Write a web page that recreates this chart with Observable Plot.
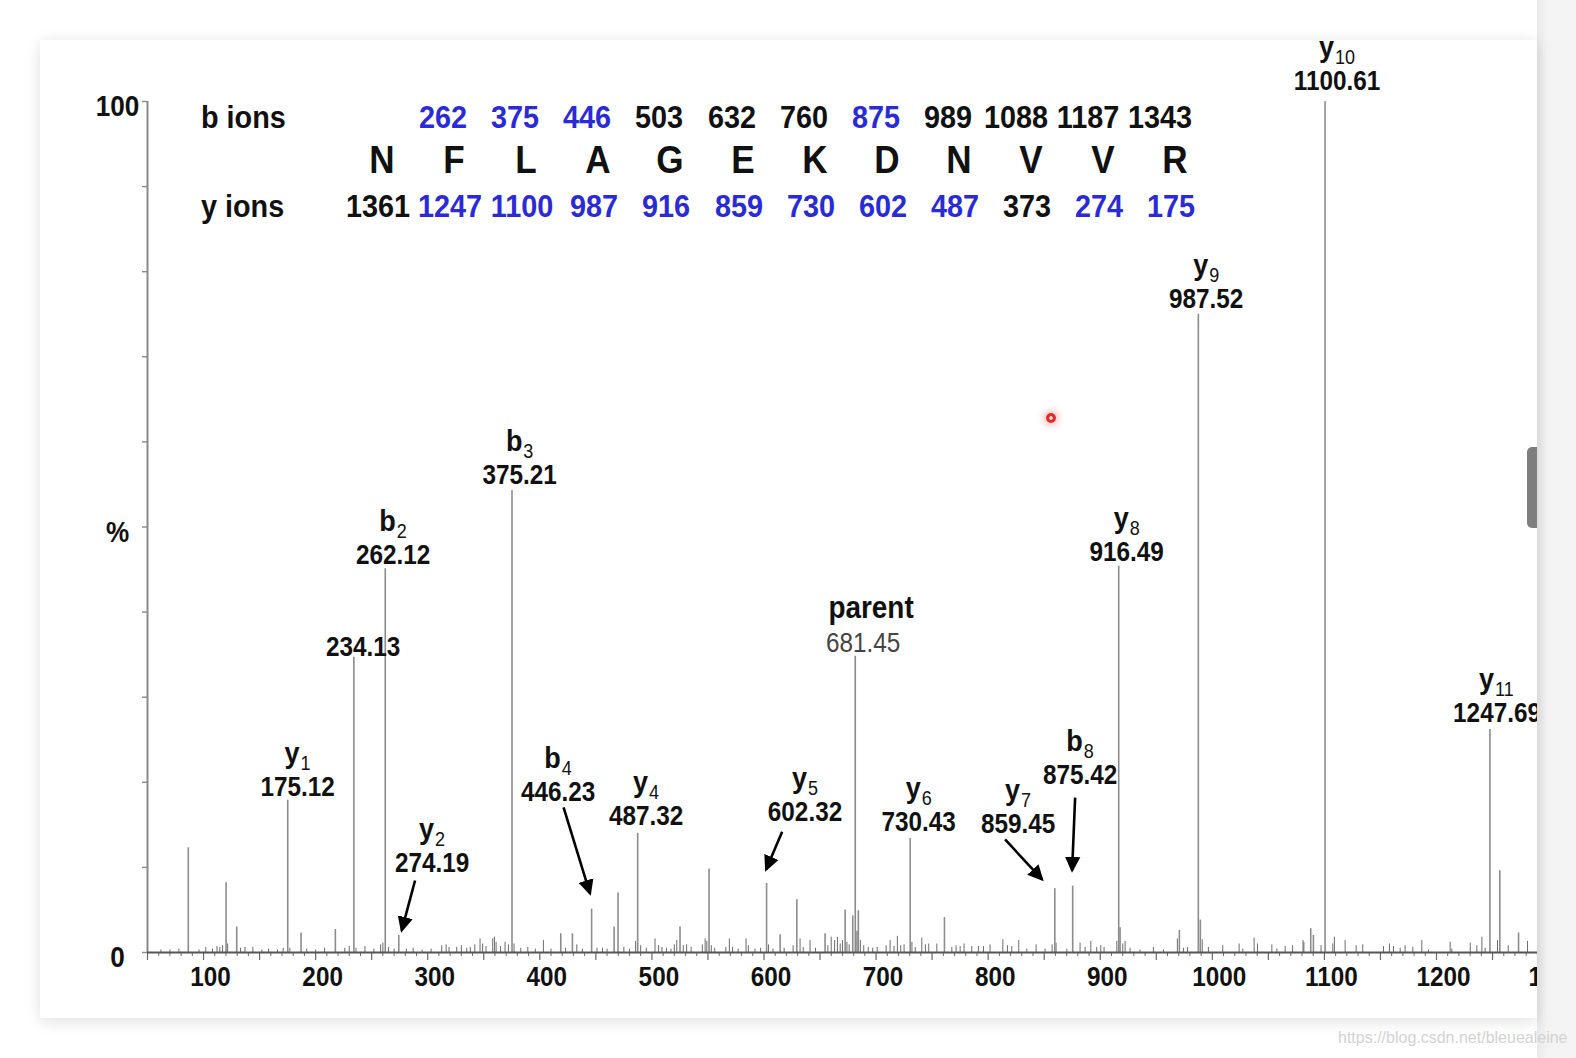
<!DOCTYPE html>
<html>
<head>
<meta charset="utf-8">
<script src="https://cdn.jsdelivr.net/npm/d3@7"></script>
<script src="https://cdn.jsdelivr.net/npm/@observablehq/plot@0.6"></script>
<style>
  html, body { margin:0; padding:0; background:#fff; }
  body { position:relative; width:1576px; height:1058px; overflow:hidden; font-family:"Liberation Sans", Arial, sans-serif; }
  #strip { position:absolute; left:1537px; top:0; width:39px; height:1058px; background:linear-gradient(90deg,#e9e9e9,#f3f3f3 10px,#f4f4f4); }
  #card { position:absolute; left:40px; top:40px; width:1497px; height:978px; background:#fff; overflow:hidden; box-shadow:0 3px 14px rgba(0,0,0,0.13); }
  #chart { position:absolute; left:0; top:0; width:1600px; height:978px; }
  #chart svg { max-width:none !important; }
  #header { position:absolute; left:0; top:0; }
  .h { position:absolute; line-height:1; white-space:nowrap; font-weight:bold; color:#111; }
  .c { transform: translateX(-50%) scaleX(0.9); }
  .l { transform-origin: 0 0; transform: scaleX(0.9); }
  #thumb { position:absolute; left:1527px; top:447px; width:10px; height:81px; background:#7e7e7e; border-radius:5px 0 0 5px; }
  #dot { position:absolute; left:1046px; top:413px; width:10px; height:10px; border-radius:50%;
         background: radial-gradient(circle, #f7c4c4 0 1.6px, #e02a2a 2.2px 5px);
         box-shadow: 0 0 6px 3px rgba(240,70,70,0.30); }
  #wm { position:absolute; left:1338px; top:1030px; font-size:16px; line-height:1; color:#d2d2d2; white-space:nowrap; }
</style>
</head>
<body>
<div id="strip"></div>
<div id="card"><div id="chart"></div></div>
<div id="header"></div>
<div id="thumb"></div>
<div id="dot"></div>
<div id="wm">https://blog.csdn.net/bleuealeine</div>
<script>
// ---------------- data ----------------
// peptide sequence and fragment-ion ladders
const residues  = ["N","F","L","A","G","E","K","D","N","V","V","R"];
const bIons     = [262, 375, 446, 503, 632, 760, 875, 989, 1088, 1187, 1343];
const bObserved = [true, true, true, false, false, false, true, false, false, false, false];
const yIons     = [1361, 1247, 1100, 987, 916, 859, 730, 602, 487, 373, 274, 175];
const yObserved = [false, true, true, true, true, true, true, true, true, false, true, true];

// annotated fragment peaks (m/z, relative intensity %)
const ionLetter = ["y","b","y","b","b","y","y","y","y","b","y","y","y","y"];
const ionIndex  = ["1","2","2","3","4","4","5","6","7","8","8","9","10","11"];
const ionMz     = [175.12, 262.12, 274.19, 375.21, 446.23, 487.32, 602.32, 730.43, 859.45, 875.42, 916.49, 987.52, 1100.61, 1247.69];
const ionInt    = [17.9, 45.1, 2.0, 54.3, 5.1, 14.0, 8.1, 13.4, 7.5, 7.8, 45.4, 75.0, 100, 26.2];
// where each annotation's value line sits (m/z, %)
const ionLabelMz  = [183.9, 269.1, 303.9, 382.0, 416.3, 494.8, 636.6, 738.0, 826.7, 882.0, 923.6, 994.5, 1111.3, 1254.0];
const ionLabelPct = [19.4, 46.65, 10.46, 56.05, 18.8, 15.98, 16.45, 15.28, 15.04, 20.8, 47.04, 76.8, 102.4, 28.13];

// other labelled peaks
const unassignedMz = 234.13, unassignedInt = 34.7, unassignedLabel = [242.3, 35.84];
const parentMz = 681.45, parentInt = 34.8, parentLabel = [688.4, 36.3];

// arrows from label to weak peaks: [fromMz, fromPct] -> [toMz, toPct]
const arrowFrom = [[288.7, 8.46], [421.2, 17.04], [616.2, 14.2], [815.1, 13.28], [877.6, 18.2]];
const arrowTo   = [[276.8, 2.59], [444.8, 6.93], [601.9, 9.75], [848.1, 8.58], [874.9, 9.64]];

// unlabelled peaks and baseline noise
const otherMz = [62,70,78,86.4,96,102,108,112,114.5,117,120.1,121.5,129.6,133,137,144,152,158,166,171,
  177,187.0,192,200,208,217.6,226,230,236,244,252,258,260,265,270,281,287,295,303,312.5,316.4,319,325.9,330,
  334.8,338,342,346.7,349,352,358.0,359.5,361,365,369,372,377,383,389.3,396,403.2,410,418.7,423,429.1,433,438,
  451,456,460,466.3,469.8,475,480,485.5,490,495,502.8,506,509,513,517,520,522.2,525.1,528,531,535,545,547.5,
  549,551.0,553,556,566,569.1,572,577,584.0,586,592,597,604,608,614.4,618,626,629.3,632.2,635,641.1,646,654.5,
  657,660,663,665.5,668,670,672.4,674,676,679.2,683,684.2,686,689,693,697,701,709,712.5,716,719.0,722,725,732,
  735,740.8,744,747,754.2,761.0,767.6,771.4,775,778.5,785.4,791.3,795.8,801.7,813.1,817.2,821.1,827.3,834.5,
  842.8,850.8,857.1,860.6,870.2,882.0,886.5,891.6,896.9,900.5,903.4,914.8,917.7,920.1,922.2,926.6,935.5,947.4,
  956.4,968.8,970.6,974.2,977.8,989.3,991,996.5,1009.3,1023.9,1027.2,1037.3,1040.3,1053.1,1057.6,1065.0,1071.6,
  1080.9,1081.7,1087.8,1090.2,1097,1107.5,1108.9,1118.5,1128.3,1134.2,1152.7,1158.0,1161.6,1167.6,1172,1178.9,
  1186.9,1192.8,1212.2,1213.7,1230.1,1236.0,1240.5,1243.4,1254.4,1256.5,1264,1273.2,1281.2];
const otherInt = [0.3,0.3,0.4,12.3,0.3,0.6,0.4,0.7,0.6,0.8,8.2,1.0,3.0,0.5,0.6,0.6,0.3,0.4,0.3,0.5,
  0.5,2.3,0.4,0.3,0.5,2.7,0.5,0.7,0.5,0.7,0.4,0.9,1.1,0.6,0.4,0.4,0.5,0.3,0.4,0.8,0.9,0.6,0.6,0.8,
  0.5,0.6,0.9,1.6,1.0,0.7,1.6,1.8,1.2,0.7,1.2,0.9,1.0,0.5,0.6,0.4,1.4,0.4,2.2,0.5,2.2,0.9,0.4,
  0.5,0.5,0.4,3.0,7.0,0.6,0.4,1.3,0.8,0.5,1.6,0.8,0.6,0.5,0.4,0.9,1.4,3.0,0.8,0.9,0.6,0.9,1.6,
  1.3,9.8,0.8,0.5,0.6,1.6,0.6,0.4,1.6,0.8,0.4,0.5,0.9,0.4,2.1,0.5,0.8,6.2,1.6,0.6,1.4,0.5,2.2,
  0.8,1.8,1.4,1.8,1.0,1.4,5.0,1.2,0.9,4.3,2.5,4.9,1.4,0.8,0.6,0.5,0.6,0.8,1.4,0.7,1.9,0.8,0.9,1.2,
  0.6,1.7,0.9,1.0,1.0,4.1,0.6,0.8,0.7,1.0,0.7,0.7,0.7,0.9,1.5,0.8,0.7,1.4,0.4,
  0.9,0.4,0.9,1.1,0.4,1.1,0.6,1.3,0.6,0.8,0.6,1.3,2.9,1.0,1.3,0.5,0.3,0.6,
  0.3,1.6,2.6,0.5,0.6,3.8,1.5,0.6,0.8,1.0,0.4,1.7,1.0,0.9,0.4,0.7,0.8,
  1.4,1.2,2.8,2.0,0.8,1.0,1.8,1.4,0.8,0.9,0.7,1.0,0.7,0.5,0.8,0.6,
  1.4,0.3,1.2,0.4,1.1,0.8,1.8,0.5,1.4,9.6,0.8,2.3,1.3];

// axis ticks
const xLabelTicks = [100,200,300,400,500,600,700,800,900,1000,1100,1200,1300];
const yTickValues = [0,10,20,30,40,50,60,70,80,90,100];
const yLabelValues = [100, 50, 0];
const yLabelText   = ["100", "%", "0"];

// ---------------- header (sequence ladder) ----------------
const BLUE = "#2a2ad8";
const colX = i => 382 + 72.1 * i;
const header = document.getElementById("header");
function addText(txt, left, top, size, color, cls) {
  const d = document.createElement("div");
  d.className = "h " + cls;
  d.textContent = txt;
  d.style.left = left + "px";
  d.style.top = top + "px";
  d.style.fontSize = size + "px";
  d.style.color = color;
  header.appendChild(d);
}
addText("b ions", 201, 100.9, 32, "#111", "l");
addText("y ions", 201, 189.6, 32, "#111", "l");
bIons.forEach((v, i) => addText(String(v), colX(i + 1) - 11 - (i >= 8 ? 4 : 0), 100.9, 32, bObserved[i] ? BLUE : "#111", "c"));
residues.forEach((r, i) => addText(r, colX(i), 140, 39, "#111", "c"));
yIons.forEach((v, i) => addText(String(v), colX(i) - 4, 189.6, 32, yObserved[i] ? BLUE : "#111", "c"));

// ---------------- plot ----------------
const W = 1600, H = 978, mL = 107, mT = 61, mB = 66, mR = 0;
const xDom = [50, 1382];
const k = (W - mL - mR) / (xDom[1] - xDom[0]);   // px per m/z unit
const SQ = 0.9;                                  // horizontal text compression

const ions = ionMz.map((m, i) => ({
  letter: ionLetter[i], idx: ionIndex[i], mz: m, v: ionInt[i],
  lx: ionLabelMz[i], ly: ionLabelPct[i]
}));
const GAP = 1;
const letterW = d => (d.letter === "b" ? 0.611 : 0.556) * 30 * SQ;
const subW = d => d.idx.length * 0.556 * 20 * SQ;

const peaks = [
  ...otherMz.map((m, i) => ({mz: m, v: otherInt[i]})),
  ...ions.map(d => ({mz: d.mz, v: d.v})),
  {mz: unassignedMz, v: unassignedInt},
  {mz: parentMz, v: parentInt}
];
const bigPeaks = peaks.filter(d => d.v >= 2);
const smallPeaks = peaks.filter(d => d.v < 2);

const arrows = arrowFrom.map((f, i) => ({x1: f[0], y1: f[1], x2: arrowTo[i][0], y2: arrowTo[i][1]}));
const fmt = d3.format(".2f");
const FONT = "'Liberation Sans', Arial, sans-serif";

const xMinor = d3.range(50, 1381, 10).filter(t => t % 50 !== 0);
const xMid = d3.range(50, 1381, 50);

const plot = Plot.plot({
  width: W, height: H,
  marginLeft: mL, marginTop: mT, marginBottom: mB, marginRight: mR,
  x: {type: "linear", domain: xDom},
  y: {type: "linear", domain: [0, 100]},
  style: {fontFamily: FONT, background: "transparent", overflow: "visible", maxWidth: "none"},
  marks: [
    // axes
    Plot.axisX({ticks: xMinor, tickSize: 4, tickFormat: () => "", label: null, stroke: "#6a6a6a", strokeWidth: 1}),
    Plot.axisX({ticks: xMid, tickSize: 8, tickFormat: () => "", label: null, stroke: "#6a6a6a", strokeWidth: 1.2}),
    Plot.axisY({ticks: yTickValues, tickSize: 5, tickFormat: () => "", label: null, stroke: "#8a8a8a", strokeWidth: 1.4}),
    Plot.ruleX([xDom[0]], {y1: 0, y2: 100, stroke: "#8a8a8a", strokeWidth: 2}),
    // peaks
    Plot.ruleX(smallPeaks, {x: "mz", y1: 0, y2: "v", stroke: "#6c6c6c", strokeWidth: 1}),
    Plot.ruleX(bigPeaks, {x: "mz", y1: 0, y2: "v", stroke: "#8c8c8c", strokeWidth: 1.6}),
    Plot.ruleY([0], {stroke: "#555", strokeWidth: 2}),
    // tick labels
    Plot.text(xLabelTicks, {x: d => d, y: 0, text: d => String(d), dy: 25, dx: 7,
      fontSize: 27, fontWeight: "bold", fill: "#111"}),
    Plot.text(yLabelValues, {x: xDom[0], y: d => d, text: (d, i) => yLabelText[i], dx: -30, dy: 5.5,
      textAnchor: "middle", fontSize: 29, fontWeight: "bold", fill: "#111"}),
    // ion annotations
    Plot.text(ions, {x: "lx", y: "ly", text: d => fmt(d.mz), fontSize: 27, fontWeight: "bold", fill: "#111"}),
    Plot.text(ions, {x: d => d.lx - (letterW(d) + subW(d) + GAP) / 2 / k, y: "ly", text: "letter",
      textAnchor: "start", dy: -34, fontSize: 30, fontWeight: "bold", fill: "#111"}),
    Plot.text(ions, {x: d => d.lx + (letterW(d) - subW(d) + GAP) / 2 / k, y: "ly", text: "idx",
      textAnchor: "start", dy: -23.5, fontSize: 20, fill: "#111"}),
    Plot.text([unassignedMz], {x: () => unassignedLabel[0], y: () => unassignedLabel[1], text: d => fmt(d),
      fontSize: 27, fontWeight: "bold", fill: "#111"}),
    Plot.text([parentMz], {x: () => parentLabel[0], y: () => parentLabel[1], text: () => "parent",
      dx: 8, dy: -36, fontSize: 31, fontWeight: "bold", fill: "#111"}),
    Plot.text([parentMz], {x: () => parentLabel[0], y: () => parentLabel[1], text: d => fmt(d),
      fontSize: 27, fill: "#444"}),
    // arrows
    Plot.link(arrows, {x1: "x1", y1: "y1", x2: "x2", y2: "y2", stroke: "#000", strokeWidth: 2.6, markerEnd: "arrow"})
  ]
});

plot.style.maxWidth = "none";
document.getElementById("chart").appendChild(plot);

// filled arrowheads
plot.querySelectorAll("marker").forEach(m => {
  m.setAttribute("viewBox", "-10 -5 10 10");
  m.setAttribute("markerUnits", "userSpaceOnUse");
  m.setAttribute("markerWidth", "16");
  m.setAttribute("markerHeight", "16");
  m.setAttribute("refX", "-1.5");
  m.setAttribute("refY", "0");
  m.setAttribute("fill", "#000");
  m.setAttribute("stroke", "none");
  const p = m.querySelector("path");
  if (p) p.setAttribute("d", "M-10,-4.8L0,0L-10,4.8Z");
});

// narrow the glyphs like the original rendering
plot.querySelectorAll("text").forEach(t => {
  const len = t.getComputedTextLength();
  if (len > 0) {
    t.setAttribute("textLength", (len * SQ).toFixed(2));
    t.setAttribute("lengthAdjust", "spacingAndGlyphs");
  }
});
</script>
</body>
</html>
